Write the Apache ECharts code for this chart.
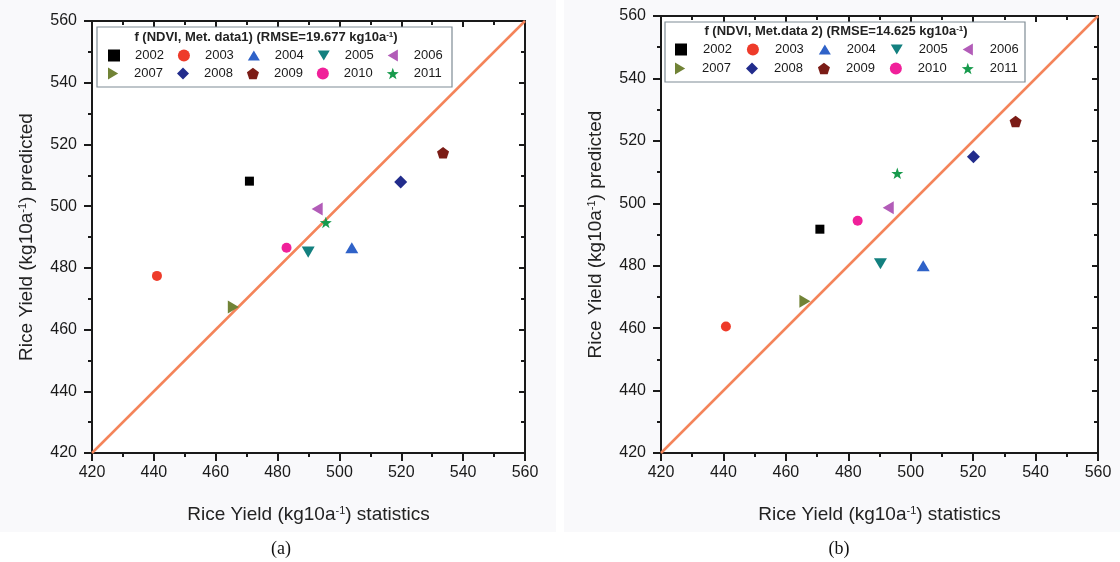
<!DOCTYPE html>
<html>
<head>
<meta charset="utf-8">
<script src="https://cdn.jsdelivr.net/npm/echarts@6/dist/echarts.min.js"></script>
<style>
html,body{margin:0;padding:0;background:#ffffff;}
#c{width:1120px;height:562px;}
</style>
</head>
<body>
<div id="c"></div>
<script>
// ---- data ----
const years = ['2002','2003','2004','2005','2006','2007','2008','2009','2010','2011'];
const statA = [470.9, 441.0, 504.0, 489.9, 492.8, 465.7, 519.8, 533.5, 482.9, 495.6];
const predA = [508.1, 477.4, 486.5, 485.1, 499.1, 467.3, 507.8, 517.3, 486.5, 494.7];
const statB = [470.9, 440.8, 504.0, 490.3, 492.8, 466.1, 520.1, 533.6, 483.0, 495.7];
const predB = [491.7, 460.5, 480.0, 480.6, 498.6, 468.6, 514.9, 526.2, 494.4, 509.6];
const oneToOne = [[420, 420], [560, 560]];
const axisMin = 420, axisMax = 560, axisStep = 20;
const titleA = 'f (NDVI, Met. data1) (RMSE=19.677 kg10a{s|-1})';
const titleB = 'f (NDVI, Met.data 2) (RMSE=14.625 kg10a{s|-1})';
const xName = 'Rice Yield (kg10a{s|-1}) statistics';
const yName = 'Rice Yield (kg10a{s|-1}) predicted';

// ---- styles ----
const FONT = 'Liberation Sans, Arial, sans-serif';
const colors = ['#000000','#EE3B2A','#2F62C8','#13807F','#B25CB8','#718336','#222C8C','#7B1C16','#F0209A','#179A4C'];
const PENT = 'path://M0,-10 L9.51,-3.09 L5.88,8.09 L-5.88,8.09 L-9.51,-3.09 Z';
const STAR = 'path://M0,-10 L2.35,-3.24 L9.51,-3.09 L3.8,1.24 L5.88,8.09 L0,4 L-5.88,8.09 L-3.8,1.24 L-9.51,-3.09 L-2.35,-3.24 Z';
const TRI_UP = 'path://M0,-9 L10,8 L-10,8 Z';
const TRI_DOWN = 'path://M0,9 L10,-8 L-10,-8 Z';
const TRI_LEFT = 'path://M-9,0 L8,-10 L8,10 Z';
const TRI_RIGHT = 'path://M9,0 L-8,-10 L-8,10 Z';
const symbols = ['rect','circle',TRI_UP,TRI_DOWN,TRI_LEFT,TRI_RIGHT,'diamond',PENT,'circle',STAR];
const sizes = [9,10,13,13,13,13,13,12,10,12];

const chart = echarts.init(document.getElementById('c'));

const grids = [
  {left: 92, top: 21, width: 433, height: 432},
  {left: 661, top: 16, width: 437, height: 437}
];
const supRich = {s: {fontSize: 11, verticalAlign: 'top', fontFamily: FONT, color: '#222'}};

function mainAxis(gi, isX) {
  return {
    type: 'value', gridIndex: gi, min: axisMin, max: axisMax, interval: axisStep,
    position: isX ? 'bottom' : 'left',
    name: isX ? xName : yName,
    nameLocation: 'middle',
    nameGap: isX ? 52 : 56,
    nameTextStyle: {fontSize: 19, fontFamily: FONT, color: '#222', rich: supRich},
    axisLine: {show: true, onZero: false, lineStyle: {color: '#1a1a1a', width: 2}},
    axisTick: {show: true, inside: false, length: 8, lineStyle: {color: '#1a1a1a', width: 2}},
    minorTick: {show: true, splitNumber: 2, length: 4, lineStyle: {color: '#1a1a1a', width: 2}},
    splitLine: {show: false},
    axisLabel: {fontSize: 16, fontFamily: FONT, color: '#1a1a1a', margin: isX ? 12 : 15}
  };
}
function sideAxis(gi, isX) {
  return {
    type: 'value', gridIndex: gi, min: axisMin, max: axisMax, interval: axisStep,
    position: isX ? 'top' : 'right',
    axisLine: {show: true, onZero: false, lineStyle: {color: '#1a1a1a', width: 2}},
    axisTick: {show: true, inside: true, length: 6, lineStyle: {color: '#1a1a1a', width: 2}},
    minorTick: {show: true, splitNumber: 2, length: 4, lineStyle: {color: '#1a1a1a', width: 2}},
    splitLine: {show: false},
    axisLabel: {show: false}
  };
}

const xAxes = [mainAxis(0, true), sideAxis(0, true), mainAxis(1, true), sideAxis(1, true)];
const yAxes = [mainAxis(0, false), sideAxis(0, false), mainAxis(1, false), sideAxis(1, false)];

const series = [];
[[statA, predA, 0], [statB, predB, 2]].forEach(([sx, sy, ai]) => {
  series.push({
    type: 'line', xAxisIndex: ai, yAxisIndex: ai, data: oneToOne,
    symbol: 'none', silent: true, z: 1,
    lineStyle: {color: '#F4845A', width: 2.5}
  });
  years.forEach((y, i) => {
    series.push({
      type: 'scatter', name: y, xAxisIndex: ai, yAxisIndex: ai,
      data: [[sx[i], sy[i]]],
      symbol: symbols[i], symbolSize: sizes[i],
      symbolKeepAspect: true,
      itemStyle: {color: colors[i], opacity: 1}, z: 3
    });
  });
});

function legendRow(idx, left, top, gap, pad) {
  return {
    data: idx.map(i => years[i]),
    left: left, top: top, orient: 'horizontal',
    itemWidth: 12, itemHeight: 12, itemGap: gap, padding: 0,
    selectedMode: false,
    textStyle: {fontSize: 13, fontFamily: FONT, color: '#1a1a1a', padding: [0, 0, 0, pad]}
  };
}
const row1 = [0,1,2,3,4], row2 = [5,6,7,8,9];
const legends = [
  legendRow(row1, 108, 49, 14, 10),
  legendRow(row2, 108, 67, 14, 10),
  legendRow(row1, 675, 43, 15, 11),
  legendRow(row2, 675, 62, 15, 11)
];

const titleRich = {s: {fontSize: 8, fontWeight: 'bold', verticalAlign: 'top', fontFamily: FONT, fill: '#222'}};
const graphics = [
  {type: 'rect', shape: {x: 0, y: 0, width: 556, height: 532}, style: {fill: '#f9f9fb'}, z: -10, silent: true},
  {type: 'rect', shape: {x: 564, y: 0, width: 556, height: 532}, style: {fill: '#f9f9fb'}, z: -10, silent: true},
  {type: 'rect', shape: {x: 92, y: 21, width: 433, height: 432}, style: {fill: '#ffffff'}, z: -9, silent: true},
  {type: 'rect', shape: {x: 661, y: 16, width: 437, height: 437}, style: {fill: '#ffffff'}, z: -9, silent: true},
  {type: 'rect', shape: {x: 97, y: 27, width: 355, height: 60}, style: {fill: 'none', stroke: '#7f8c95', lineWidth: 1.2}, z: 5, silent: true},
  {type: 'rect', shape: {x: 665, y: 22, width: 360, height: 60}, style: {fill: 'none', stroke: '#7f8c95', lineWidth: 1.2}, z: 5, silent: true},
  {type: 'text', x: 266, y: 37, z: 6, style: {text: titleA, fontSize: 13, fontWeight: 'bold', fontFamily: FONT, fill: '#222', align: 'center', verticalAlign: 'middle', rich: titleRich}},
  {type: 'text', x: 836, y: 31, z: 6, style: {text: titleB, fontSize: 13, fontWeight: 'bold', fontFamily: FONT, fill: '#222', align: 'center', verticalAlign: 'middle', rich: titleRich}},
  {type: 'text', x: 281, y: 549, style: {text: '(a)', fontSize: 18, fontFamily: 'Liberation Serif, Times New Roman, serif', fill: '#111', align: 'center', verticalAlign: 'middle'}},
  {type: 'text', x: 839, y: 549, style: {text: '(b)', fontSize: 18, fontFamily: 'Liberation Serif, Times New Roman, serif', fill: '#111', align: 'center', verticalAlign: 'middle'}}
];

chart.setOption({
  animation: false,
  backgroundColor: '#ffffff',
  grid: grids,
  xAxis: xAxes,
  yAxis: yAxes,
  legend: legends,
  series: series,
  graphic: graphics
});
</script>
</body>
</html>
